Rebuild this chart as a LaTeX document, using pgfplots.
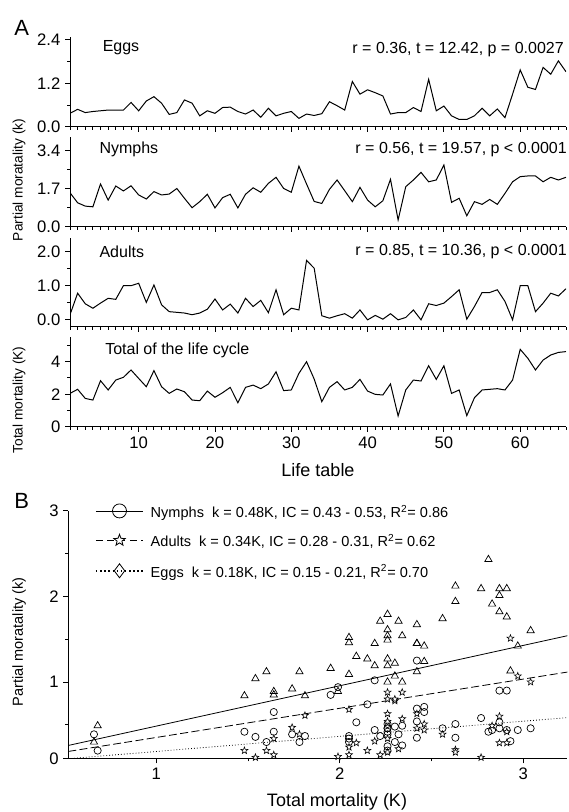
\documentclass[border=0pt]{standalone}
\usepackage{fontspec}
\setmainfont{Liberation Sans}
\usepackage{pgfplots}
\usepackage{pgfplotstable}
\pgfplotsset{compat=1.18}
\newlength\px
\setlength\px{0.75pt}

% open five-pointed star
\pgfdeclareplotmark{ostar}{%
  \pgfpathmoveto{\pgfpointpolar{90}{\pgfplotmarksize}}%
  \pgfpathlineto{\pgfpointpolar{126}{0.42\pgfplotmarksize}}%
  \pgfpathlineto{\pgfpointpolar{162}{\pgfplotmarksize}}%
  \pgfpathlineto{\pgfpointpolar{198}{0.42\pgfplotmarksize}}%
  \pgfpathlineto{\pgfpointpolar{234}{\pgfplotmarksize}}%
  \pgfpathlineto{\pgfpointpolar{270}{0.42\pgfplotmarksize}}%
  \pgfpathlineto{\pgfpointpolar{306}{\pgfplotmarksize}}%
  \pgfpathlineto{\pgfpointpolar{342}{0.42\pgfplotmarksize}}%
  \pgfpathlineto{\pgfpointpolar{18}{\pgfplotmarksize}}%
  \pgfpathlineto{\pgfpointpolar{54}{0.42\pgfplotmarksize}}%
  \pgfpathclose
  \pgfusepathqfillstroke}

\pgfplotstableread{
i eggs nymphs adults total
1 0.37 1.52 0.15 2.05
2 0.48 1.07 0.78 2.30
3 0.39 0.92 0.47 1.74
4 0.42 0.89 0.34 1.64
5 0.44 1.91 0.49 2.83
6 0.46 1.19 0.63 2.26
7 0.46 1.82 0.60 2.87
8 0.46 1.60 1.00 3.04
9 0.67 1.83 1.00 3.49
10 0.44 1.42 1.07 2.97
11 0.71 1.24 0.51 2.46
12 0.83 1.57 1.02 3.45
13 0.65 1.42 0.44 2.46
14 0.34 1.46 0.24 2.05
15 0.39 1.71 0.22 2.32
16 0.74 1.27 0.20 2.15
17 0.65 0.85 0.15 1.64
18 0.30 1.12 0.20 1.60
19 0.44 1.45 0.31 2.19
20 0.37 0.84 0.61 1.81
21 0.53 1.30 0.29 2.09
22 0.54 1.45 0.46 2.42
23 0.42 0.84 0.20 1.48
24 0.35 1.45 0.63 2.42
25 0.46 1.74 0.39 2.56
26 0.26 1.54 0.57 2.34
27 0.51 1.94 0.21 2.63
28 0.30 2.21 0.88 3.38
29 0.37 1.71 0.15 2.22
30 0.42 1.54 0.34 2.26
31 0.23 2.71 0.29 3.28
32 0.35 1.91 1.74 4.00
33 0.31 1.13 1.51 2.93
34 0.36 1.04 0.12 1.54
35 0.69 1.67 0.05 2.42
36 0.58 2.09 0.12 2.77
37 0.46 1.61 0.18 2.26
38 1.25 1.12 0.05 2.42
39 0.90 1.76 0.29 2.91
40 1.02 1.19 0.00 2.19
41 0.94 0.89 0.13 1.99
42 0.85 1.16 0.02 1.95
43 0.35 2.12 0.18 2.63
44 0.39 0.30 0.00 0.66
45 0.39 1.79 0.07 2.26
46 0.53 2.09 0.29 2.87
47 0.42 2.43 0.00 2.81
48 1.31 2.01 0.47 3.75
49 0.44 2.09 0.42 2.91
50 0.57 2.76 0.49 3.75
51 0.30 1.09 0.68 2.05
52 0.20 1.27 0.88 2.26
53 0.20 0.49 0.02 0.68
54 0.30 1.12 0.39 1.78
55 0.51 1.00 0.80 2.26
56 0.30 1.22 0.80 2.30
57 0.49 1.00 0.88 2.34
58 0.25 1.49 0.54 2.26
59 0.90 2.01 0.00 2.87
60 1.57 2.24 1.00 4.76
61 1.09 2.27 1.00 4.21
62 1.03 2.27 0.24 3.49
63 1.64 2.01 0.49 4.10
64 1.45 2.21 0.78 4.41
65 1.82 2.09 0.70 4.57
66 1.52 2.21 0.91 4.62
}\lifetab

\newcommand\fT{\fontsize{12}{14}\selectfont}
\newcommand\fK{\fontsize{12.5}{14}\selectfont}
\newcommand\fL{\fontsize{10.9}{12}\selectfont}
\newcommand\fY{\fontsize{10.3}{12}\selectfont}
\newcommand\fX{\fontsize{13.5}{15}\selectfont}

\pgfplotsset{
  base/.style={scale only axis, anchor=south west, axis lines*=left, tick align=outside,
    major tick length=5\px, minor tick length=3\px,
    axis line style={line width=1\px},
    tick style={black, line width=0.9\px},
    tick label style={font=\fK},
    /pgf/number format/assume math mode=true},
  pA/.style={base, width=496\px, xmin=1, xmax=66,
    xtick={10,20,...,60}, minor xtick={1,...,66}},
  dec/.style={yticklabel style={/pgf/number format/.cd, fixed, fixed zerofill, precision=1}},
}

\begin{document}
\begin{tikzpicture}
\path[use as bounding box] (0,0) rectangle (568\px,-812\px);

% ---- panel A ----
\begin{axis}[pA, dec, at={(70\px,-126.7\px)}, height=89.7\px, ymin=0, ymax=2.48,
  ytick={0,1.2,2.4}, minor ytick={0.6,1.8}, xticklabels={}]
\addplot[black, line width=1\px] table[x=i, y=eggs] {\lifetab};
\end{axis}

\begin{axis}[pA, dec, at={(70\px,-226.7\px)}, height=89.4\px, ymin=0, ymax=4.0,
  ytick={0,1.7,3.4}, minor ytick={0.85,2.55}, xticklabels={}]
\addplot[black, line width=1\px] table[x=i, y=nymphs] {\lifetab};
\end{axis}

\begin{axis}[pA, dec, at={(70\px,-326.7\px)}, height=88.9\px, ymin=-0.2, ymax=2.4,
  ytick={0,1,2}, minor ytick={0.5,1.5}, xticklabels={}]
\addplot[black, line width=1\px] table[x=i, y=adults] {\lifetab};
\end{axis}

\begin{axis}[pA, at={(70\px,-426.7\px)}, height=89.4\px, ymin=0, ymax=5.5,
  ytick={0,2,4}, minor ytick={1,3,5}]
\addplot[black, line width=1\px] table[x=i, y=total] {\lifetab};
\end{axis}

% ---- panel B ----
\begin{axis}[base, at={(68.3\px,-758.3\px)}, width=499\px, height=247.7\px,
  xmin=0.52, xmax=3.24, ymin=0.11, ymax=3,
  xtick={1,2,3}, minor xtick={1.5,2.5},
  ytick={0.11,1,2,3}, yticklabels={0,1,2,3}, minor ytick={0.5,1.5,2.5},
  legend style={at={(0.0535,1.028)}, anchor=north west, draw=none, fill=none,
    inner sep=0pt, row sep=13\px, column sep=7\px, font=\fL,
    nodes={inner sep=0pt, text height=9pt, text depth=3pt}},
  legend cell align=left,
  legend image code/.code={\draw[yshift=-7\px, mark repeat=2, mark phase=2, #1]
    plot coordinates {(0,0) (23.5\px,0) (47\px,0)};}]
\addlegendimage{black, line width=0.8\px, mark=o, mark size=7\px, mark options={solid, fill=white}}
\addlegendentry{Nymphs\ \ k = 0.48K, IC = 0.43 - 0.53, R\textsuperscript{2}= 0.86}
\addlegendimage{black, line width=0.8\px, dash pattern=on 5pt off 3.5pt, mark=ostar, mark size=6\px, mark options={solid, fill=white}}
\addlegendentry{Adults\ \ k = 0.34K, IC = 0.28 - 0.31, R\textsuperscript{2}= 0.62}
\addlegendimage{black, line width=1.1pt, dash pattern=on 1.1pt off 2pt, mark=diamond, mark size=7\px, mark options={solid, line width=0.6pt, fill=white}}
\addlegendentry{Eggs\ \ k = 0.18K, IC = 0.15 - 0.21, R\textsuperscript{2}= 0.70}

\addplot[black, line width=0.8\px, forget plot] coordinates {(0.52,0.26) (3.24,1.54)};
\addplot[black, line width=0.8\px, dash pattern=on 6pt off 2.5pt, forget plot] coordinates {(0.52,0.19) (3.24,1.116)};
\addplot[black, line width=0.8\px, dash pattern=on 0.6pt off 1.6pt, forget plot] coordinates {(0.52,0.105) (3.24,0.585)};
\addplot[only marks, forget plot, mark=triangle, mark size=4.2\px, mark options={black, line width=0.7\px}] table[x=total, y=nymphs] {\lifetab};
\addplot[only marks, forget plot, mark=o, mark size=3.6\px, mark options={black, line width=0.7\px}] table[x=total, y=eggs] {\lifetab};
\addplot[only marks, forget plot, mark=ostar, mark size=3.6\px, mark options={black, fill=white, line width=0.6\px}] table[x=total, y=adults] {\lifetab};
\end{axis}

% ---- labels ----
\node[anchor=base west, font=\fontsize{16.5}{18}\selectfont, inner sep=0pt] at (14\px,-36\px) {A};
\node[anchor=base west, font=\fontsize{16.5}{18}\selectfont, inner sep=0pt] at (14\px,-508\px) {B};

\node[anchor=base west, font=\fT, inner sep=0pt] at (102.5\px,-52\px) {Eggs};
\node[anchor=base west, font=\fT, inner sep=0pt] at (99.3\px,-154\px) {Nymphs};
\node[anchor=base west, font=\fT, inner sep=0pt] at (99.3\px,-257.5\px) {Adults};
\node[anchor=base west, font=\fT, inner sep=0pt] at (105\px,-354\px) {Total of the life cycle};
\node[anchor=base east, font=\fT, inner sep=0pt] at (564\px,-54\px) {r = 0.36, t = 12.42, p = 0.0027};
\node[anchor=base east, font=\fT, inner sep=0pt] at (567\px,-154\px) {r = 0.56, t = 19.57, p < 0.0001};
\node[anchor=base east, font=\fT, inner sep=0pt] at (567\px,-256\px) {r = 0.85, t = 10.36, p < 0.0001};

\node[rotate=90, font=\fY, inner sep=0pt] at (19\px,-180\px) {Partial moratality (k)};
\node[rotate=90, font=\fY, inner sep=0pt] at (19\px,-400\px) {Total mortality (K)};
\node[rotate=90, font=\fL, inner sep=0pt] at (19\px,-642\px) {Partial moratality (k)};
\node[anchor=base, font=\fX, inner sep=0pt] at (318\px,-476\px) {Life table};
\node[anchor=base, font=\fX, inner sep=0pt] at (337\px,-806\px) {Total mortality (K)};
\end{tikzpicture}
\end{document}
